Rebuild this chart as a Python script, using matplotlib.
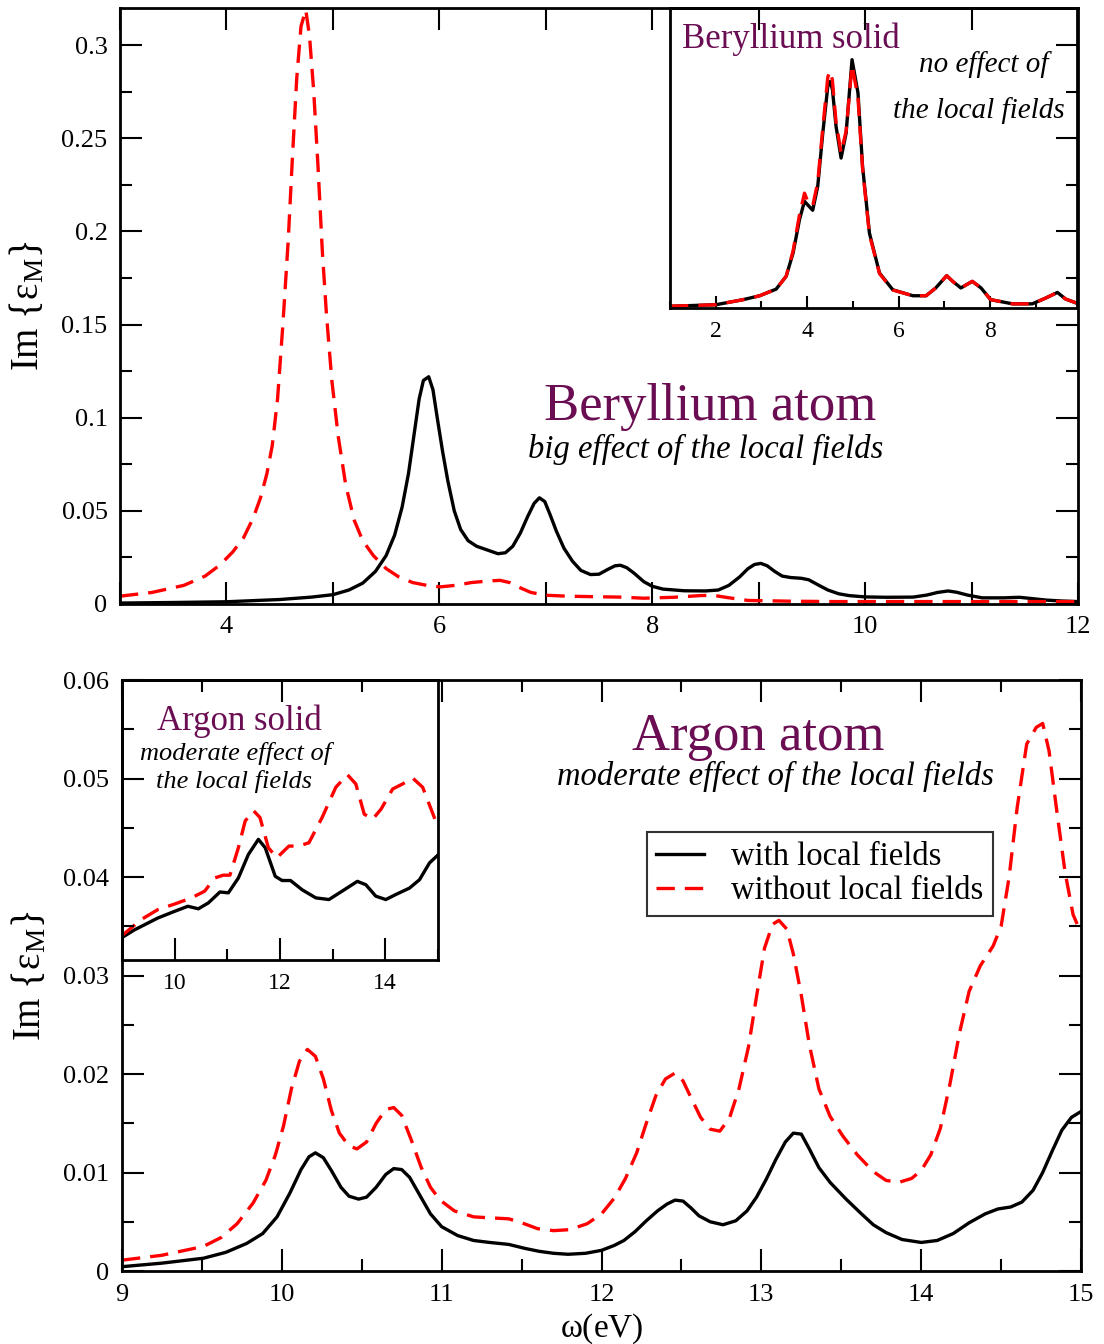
import numpy as np
import matplotlib
matplotlib.use('Agg')
import matplotlib.pyplot as plt
from matplotlib.ticker import MultipleLocator

plt.rcParams['font.family'] = ['Liberation Serif', 'DejaVu Serif']
plt.rcParams['mathtext.fontset'] = 'custom'
plt.rcParams['mathtext.rm'] = 'Liberation Serif'
plt.rcParams['mathtext.it'] = 'Liberation Serif:italic'

PURPLE = '#6a0d52'

# --- Beryllium atom (main top panel) ---
be_w_x = [3.0, 3.5, 4.0, 4.5, 4.8, 5.0, 5.15, 5.28, 5.4, 5.5, 5.58, 5.65, 5.71, 5.76, 5.81,
          5.85, 5.90, 5.94, 5.98, 6.03, 6.08, 6.14, 6.2, 6.27, 6.35, 6.45, 6.55, 6.62, 6.69,
          6.76, 6.83, 6.89, 6.94, 6.99, 7.04, 7.1, 7.17, 7.25, 7.33, 7.42, 7.5, 7.58, 7.65,
          7.7, 7.76, 7.83, 7.92, 8.0, 8.1, 8.3, 8.5, 8.62, 8.72, 8.82, 8.9, 8.96, 9.02, 9.08,
          9.15, 9.22, 9.3, 9.4, 9.47, 9.55, 9.65, 9.75, 9.85, 10.0, 10.2, 10.45, 10.58, 10.68,
          10.78, 10.86, 10.96, 11.1, 11.3, 11.45, 11.55, 11.7, 11.85, 12.0]
be_w_y = [0.0005, 0.0008, 0.0012, 0.0024, 0.0037, 0.005, 0.0075, 0.0112, 0.0175, 0.026,
          0.037, 0.052, 0.07, 0.09, 0.110, 0.120, 0.122, 0.115, 0.100, 0.082, 0.066, 0.050,
          0.040, 0.034, 0.031, 0.029, 0.027, 0.0275, 0.031, 0.038, 0.047, 0.054, 0.057, 0.055,
          0.048, 0.039, 0.030, 0.023, 0.0180, 0.0158, 0.0160, 0.0185, 0.0205, 0.0208, 0.0195,
          0.0165, 0.0120, 0.0095, 0.0080, 0.0071, 0.0070, 0.0075, 0.0100, 0.0145, 0.019,
          0.0212, 0.0218, 0.0205, 0.0175, 0.0150, 0.0142, 0.0138, 0.0130, 0.0105, 0.0075,
          0.0055, 0.0045, 0.0038, 0.0036, 0.0037, 0.0048, 0.0062, 0.0070, 0.0063, 0.0048,
          0.0033, 0.0033, 0.0036, 0.0030, 0.0021, 0.0016, 0.0013]
be_wo_x = [3.0, 3.3, 3.6, 3.8, 3.94, 4.06, 4.16, 4.25, 4.32, 4.38, 4.43, 4.48, 4.53, 4.58,
           4.62, 4.66, 4.70, 4.745, 4.78, 4.82, 4.86, 4.90, 4.94, 4.99, 5.05, 5.12, 5.2, 5.28,
           5.38, 5.5, 5.62, 5.75, 5.9, 6.01, 6.15, 6.3, 6.45, 6.57, 6.66, 6.76, 6.86, 7.0, 7.2,
           7.47, 7.7, 7.92, 8.2, 8.45, 8.57, 8.7, 8.9, 9.3, 9.71, 12.0]
be_wo_y = [0.0042, 0.0062, 0.0100, 0.0150, 0.021, 0.028, 0.0355, 0.046, 0.057, 0.070, 0.085,
           0.110, 0.150, 0.195, 0.24, 0.282, 0.31, 0.319, 0.305, 0.275, 0.235, 0.19, 0.155,
           0.120, 0.090, 0.064, 0.045, 0.034, 0.026, 0.019, 0.0145, 0.0115, 0.0098, 0.0092,
           0.0100, 0.0115, 0.0123, 0.0127, 0.0115, 0.0087, 0.0062, 0.0047, 0.0042, 0.0039,
           0.0037, 0.0031, 0.0036, 0.0045, 0.0047, 0.0035, 0.0019, 0.0015, 0.0013, 0.0013]

# --- Beryllium solid (inset, arbitrary units) ---
bes_x = [1.0, 2.0, 2.6, 2.96, 3.32, 3.54, 3.69, 3.83, 3.94, 4.01, 4.12, 4.23, 4.34, 4.45,
         4.50, 4.55, 4.63, 4.74, 4.85, 4.98, 5.11, 5.21, 5.36, 5.58, 5.87, 6.31, 6.60, 6.81,
         7.05, 7.18, 7.36, 7.61, 7.80, 8.01, 8.49, 8.92, 9.21, 9.47, 9.65, 9.88]
bes_w_y = [0.006, 0.011, 0.028, 0.041, 0.063, 0.106, 0.183, 0.294, 0.356, 0.344, 0.326,
           0.406, 0.583, 0.739, 0.755, 0.73, 0.606, 0.50, 0.583, 0.828, 0.717, 0.472, 0.25,
           0.117, 0.061, 0.041, 0.041, 0.067, 0.108, 0.089, 0.067, 0.089, 0.067, 0.028,
           0.014, 0.014, 0.033, 0.052, 0.030, 0.017]
bes_wo_y = [0.006, 0.011, 0.028, 0.041, 0.063, 0.106, 0.19, 0.31, 0.383, 0.356, 0.34,
            0.42, 0.60, 0.77, 0.79, 0.76, 0.62, 0.517, 0.59, 0.81, 0.70, 0.465, 0.245,
            0.115, 0.060, 0.041, 0.041, 0.067, 0.108, 0.089, 0.067, 0.089, 0.067, 0.028,
            0.014, 0.014, 0.033, 0.052, 0.030, 0.017]

# --- Argon atom (main bottom panel) ---
ar_w_x = [9.0, 9.25, 9.51, 9.65, 9.78, 9.88, 9.97, 10.05, 10.12, 10.17, 10.21, 10.26, 10.31,
          10.37, 10.42, 10.48, 10.53, 10.59, 10.65, 10.70, 10.75, 10.80, 10.87, 10.93, 11.0,
          11.1, 11.2, 11.3, 11.42, 11.52, 11.61, 11.7, 11.79, 11.9, 12.0, 12.08, 12.14, 12.21,
          12.28, 12.35, 12.41, 12.46, 12.51, 12.56, 12.61, 12.68, 12.76, 12.84, 12.91, 12.97,
          13.03, 13.09, 13.15, 13.2, 13.25, 13.3, 13.36, 13.43, 13.53, 13.62, 13.70, 13.78,
          13.88, 14.0, 14.1, 14.2, 14.3, 14.4, 14.48, 14.56, 14.63, 14.7, 14.76, 14.82, 14.88,
          14.94, 15.0]
ar_w_y = [0.00044, 0.0008, 0.0013, 0.0019, 0.0028, 0.0038, 0.0055, 0.0079, 0.0103, 0.0116,
          0.0120, 0.0115, 0.0102, 0.0085, 0.0076, 0.0073, 0.0075, 0.0085, 0.0098, 0.0104,
          0.0103, 0.0095, 0.0075, 0.0058, 0.0045, 0.0036, 0.0031, 0.0029, 0.0027, 0.0023,
          0.0020, 0.0018, 0.0017, 0.0018, 0.0021, 0.0026, 0.0031, 0.0040, 0.0051, 0.0061,
          0.0068, 0.0072, 0.0071, 0.0064, 0.0056, 0.0050, 0.0047, 0.0051, 0.0061, 0.0075,
          0.0093, 0.0113, 0.0131, 0.0140, 0.0139, 0.0124, 0.0105, 0.0090, 0.0073, 0.0059,
          0.0047, 0.0039, 0.0032, 0.0029, 0.0031, 0.0038, 0.0049, 0.0058, 0.0063, 0.0065,
          0.0070, 0.0082, 0.0100, 0.0122, 0.0143, 0.0156, 0.0162]
ar_wo_x = [9.0, 9.25, 9.51, 9.62, 9.72, 9.82, 9.90, 9.96, 10.01, 10.06, 10.11, 10.16, 10.21,
           10.26, 10.31, 10.36, 10.42, 10.47, 10.53, 10.59, 10.65, 10.70, 10.75, 10.81, 10.87,
           10.93, 10.99, 11.08, 11.2, 11.3, 11.42, 11.5, 11.6, 11.7, 11.8, 11.91, 12.0, 12.08,
           12.15, 12.22, 12.28, 12.34, 12.40, 12.46, 12.51, 12.56, 12.62, 12.68, 12.74, 12.8,
           12.86, 12.92, 12.97, 13.02, 13.07, 13.11, 13.16, 13.2, 13.25, 13.3, 13.36, 13.43,
           13.51, 13.6, 13.7, 13.78, 13.86, 13.94, 14.0, 14.06, 14.12, 14.18, 14.24, 14.3,
           14.37, 14.45, 14.5, 14.55, 14.6, 14.66, 14.72, 14.76, 14.8, 14.85, 14.9, 14.95, 15.0]
ar_wo_y = [0.0011, 0.0016, 0.0025, 0.0034, 0.0048, 0.0069, 0.0092, 0.0118, 0.0147, 0.0185,
           0.0213, 0.0225, 0.0218, 0.0195, 0.0163, 0.0140, 0.0127, 0.0124, 0.0131, 0.0150,
           0.0164, 0.0166, 0.0158, 0.0133, 0.0106, 0.0085, 0.0072, 0.0061, 0.0055, 0.0054,
           0.0053, 0.0049, 0.0043, 0.0041, 0.0042, 0.0048, 0.0058, 0.0074, 0.0094, 0.0120,
           0.0150, 0.0178, 0.0195, 0.0201, 0.0193, 0.0176, 0.0156, 0.0144, 0.0142, 0.0155,
           0.0185, 0.0228, 0.0279, 0.0328, 0.0352, 0.0356, 0.0347, 0.0322, 0.0280, 0.0230,
           0.0185, 0.0157, 0.0137, 0.0118, 0.0101, 0.0092, 0.0090, 0.0094, 0.0102, 0.0118,
           0.0145, 0.0190, 0.0242, 0.0284, 0.0310, 0.0330, 0.0350, 0.0400, 0.0470, 0.0535,
           0.0552, 0.0556, 0.0528, 0.0465, 0.0405, 0.0362, 0.0343]

# --- Argon solid (inset, arbitrary units) ---
ars_w_x = [8.98, 9.24, 9.68, 10.0, 10.25, 10.45, 10.64, 10.86, 11.02, 11.21, 11.40, 11.59,
           11.72, 11.91, 12.04, 12.20, 12.42, 12.68, 12.93, 13.18, 13.47, 13.63, 13.82, 14.01,
           14.20, 14.46, 14.65, 14.84, 15.0]
ars_w_y = [0.078, 0.108, 0.150, 0.174, 0.192, 0.183, 0.204, 0.243, 0.240, 0.293, 0.377,
           0.431, 0.401, 0.299, 0.284, 0.284, 0.251, 0.222, 0.216, 0.246, 0.281, 0.269,
           0.228, 0.216, 0.234, 0.257, 0.287, 0.347, 0.375]
ars_wo_x = [8.98, 9.36, 9.68, 10.0, 10.32, 10.57, 10.76, 10.92, 11.05, 11.21, 11.34, 11.50,
            11.62, 11.78, 11.94, 12.17, 12.36, 12.55, 12.80, 13.06, 13.28, 13.44, 13.60, 13.76,
            13.92, 14.14, 14.33, 14.52, 14.71, 15.0]
ars_wo_y = [0.084, 0.144, 0.180, 0.200, 0.222, 0.246, 0.293, 0.303, 0.303, 0.401, 0.497,
            0.533, 0.509, 0.401, 0.365, 0.407, 0.407, 0.419, 0.509, 0.617, 0.662, 0.629,
            0.521, 0.503, 0.539, 0.611, 0.629, 0.650, 0.617, 0.475]

LW = 2.4
DASH = (5.5, 3)
LINE = dict(lw=LW, solid_joinstyle='round', dash_joinstyle='round')

fig = plt.figure(figsize=(11.04, 13.44), dpi=100, facecolor='white')


def style_main(ax, fs=19):
    ax.set_facecolor('none')
    ax.tick_params(which='both', direction='in', top=True, right=True, labelsize=fs,
                   width=1.5, pad=9)
    ax.tick_params(which='major', length=16)
    ax.tick_params(which='minor', length=8.5)
    for s in ax.spines.values():
        s.set_linewidth(2.0)


# top main axes
ax1 = fig.add_axes([0.1087, 0.5506, 0.8678, 0.4435], zorder=3)
ax1.plot(be_w_x, be_w_y, color='black', **LINE)
ax1.plot(be_wo_x, be_wo_y, color='red', dashes=DASH, **LINE)
ax1.set_xlim(3, 12)
ax1.set_ylim(0, 0.32)
ax1.xaxis.set_major_locator(MultipleLocator(2))
ax1.xaxis.set_minor_locator(MultipleLocator(1))
ax1.yaxis.set_minor_locator(MultipleLocator(0.025))
style_main(ax1)
ax1.tick_params(axis='x', which='minor', length=16)
ax1.set_yticks([0, 0.05, 0.1, 0.15, 0.2, 0.25, 0.3])
ax1.set_yticklabels(['0', '0.05', '0.1', '0.15', '0.2', '0.25', '0.3'])
ax1.set_ylabel(r'Im {$\mathregular{\epsilon_M}$}', fontsize=28, labelpad=10)
ax1.text(0.616, 0.309, 'Beryllium atom', transform=ax1.transAxes, ha='center',
         va='baseline', fontsize=38, color=PURPLE)
ax1.text(0.611, 0.245, 'big effect of the local fields', transform=ax1.transAxes,
         ha='center', va='baseline', fontsize=23.5, style='italic')

# top inset
in1 = fig.add_axes([0.6069, 0.7708, 0.3687, 0.2232], zorder=2)
in1.plot(bes_x, bes_w_y, color='black', **LINE)
in1.plot(bes_x, bes_wo_y, color='red', dashes=DASH, **LINE)
in1.set_xlim(1, 9.9)
in1.set_ylim(0, 1.0)
in1.xaxis.set_major_locator(MultipleLocator(2))
in1.xaxis.set_minor_locator(MultipleLocator(1))
in1.set_yticks([])
in1.tick_params(which='both', direction='in', labelsize=17, width=1.5, pad=9)
in1.tick_params(which='major', length=9)
in1.tick_params(which='minor', length=5)
for s in in1.spines.values():
    s.set_linewidth(2.0)
in1.text(0.03, 0.867, 'Beryllium solid', transform=in1.transAxes, fontsize=25,
         color=PURPLE, va='baseline')
in1.text(0.929, 0.787, 'no effect of', transform=in1.transAxes, ha='right',
         va='baseline', fontsize=21, style='italic')
in1.text(0.97, 0.633, 'the local fields', transform=in1.transAxes, ha='right',
         va='baseline', fontsize=21, style='italic')

# bottom main axes
ax2 = fig.add_axes([0.1105, 0.0543, 0.8687, 0.4397], zorder=3)
ax2.plot(ar_w_x, ar_w_y, color='black', label='with local fields', **LINE)
ax2.plot(ar_wo_x, ar_wo_y, color='red', dashes=DASH, label='without local fields', **LINE)
ax2.set_xlim(9, 15)
ax2.set_ylim(0, 0.06)
ax2.xaxis.set_major_locator(MultipleLocator(1))
ax2.xaxis.set_minor_locator(MultipleLocator(0.5))
ax2.yaxis.set_minor_locator(MultipleLocator(0.005))
style_main(ax2)
ax2.set_yticks([0, 0.01, 0.02, 0.03, 0.04, 0.05, 0.06])
ax2.set_yticklabels(['0', '0.01', '0.02', '0.03', '0.04', '0.05', '0.06'])
ax2.set_ylabel(r'Im {$\mathregular{\epsilon_M}$}', fontsize=28, labelpad=10)
ax2.set_xlabel(r'$\mathregular{\omega}$(eV)', fontsize=24, labelpad=4)
ax2.text(0.663, 0.882, 'Argon atom', transform=ax2.transAxes, ha='center',
         va='baseline', fontsize=38, color=PURPLE)
ax2.text(0.681, 0.822, 'moderate effect of the local fields', transform=ax2.transAxes,
         ha='center', va='baseline', fontsize=23.5, style='italic')
leg = ax2.legend(loc='upper left', bbox_to_anchor=(0.547, 0.743), fontsize=23.5,
                 frameon=True, fancybox=False, edgecolor='black', handlelength=1.45,
                 handletextpad=0.85, borderpad=0.3, labelspacing=0.1, borderaxespad=0)
leg.get_frame().set_linewidth(1.5)

# bottom inset
in2 = fig.add_axes([0.1105, 0.2857, 0.2862, 0.2083], zorder=2)
in2.plot(ars_w_x, ars_w_y, color='black', **LINE)
in2.plot(ars_wo_x, ars_wo_y, color='red', dashes=DASH, **LINE)
in2.set_xlim(9, 15)
in2.set_ylim(0, 1.0)
in2.xaxis.set_major_locator(MultipleLocator(2))
in2.xaxis.set_minor_locator(MultipleLocator(1))
in2.set_yticks([])
in2.tick_params(which='both', direction='in', labelsize=17, width=1.5, pad=9)
in2.tick_params(which='major', length=16)
in2.tick_params(which='minor', length=8)
for s in in2.spines.values():
    s.set_linewidth(2.0)
in2.text(0.37, 0.821, 'Argon solid', transform=in2.transAxes, ha='center',
         va='baseline', fontsize=25, color=PURPLE)
in2.text(0.36, 0.714, 'moderate effect of', transform=in2.transAxes, ha='center',
         va='baseline', fontsize=19, style='italic')
in2.text(0.355, 0.614, 'the local fields', transform=in2.transAxes, ha='center',
         va='baseline', fontsize=19, style='italic')

fig.savefig('out.png', dpi=100)
